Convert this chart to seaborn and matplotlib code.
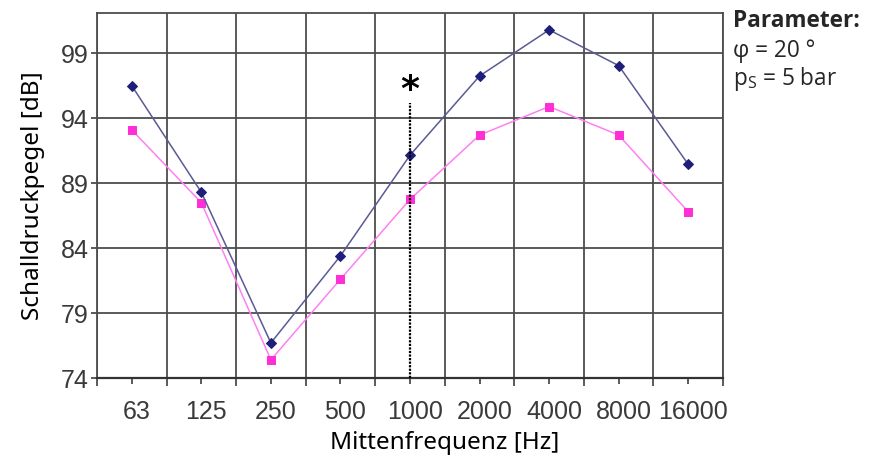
import numpy as np
import pandas as pd
import matplotlib
matplotlib.use("Agg")
import matplotlib.pyplot as plt
import matplotlib.transforms as mtransforms
import seaborn as sns

# Octave-band centre frequencies and measured sound pressure levels
frequencies = ["63", "125", "250", "500", "1000", "2000", "4000", "8000", "16000"]
level_navy = [96.5, 88.3, 76.7, 83.4, 91.15, 97.25, 100.8, 98.05, 90.45]
level_pink = [93.1, 87.5, 75.4, 81.6, 87.75, 92.7, 94.9, 92.7, 86.8]
y_ticks = [74, 79, 84, 89, 94, 99]
y_range = (74, 102.1)
highlight_freq = "1000"
highlight_top = 95.2

sns.set_theme(style="white")
plt.rcParams["font.family"] = ["Noto Sans", "DejaVu Sans"]
plt.rcParams["mathtext.fontset"] = "custom"
plt.rcParams["mathtext.rm"] = "Open Sans"

fig = plt.figure(figsize=(8.83, 4.65), dpi=100)
ax = fig.add_axes([97 / 883, 87 / 465, 626 / 883, 365 / 465])

df = pd.DataFrame({"Frequenz": frequencies,
                   "navy": level_navy,
                   "pink": level_pink})

sns.lineplot(data=df, x="Frequenz", y="navy", sort=False, ax=ax,
             color="#5a5a94", linewidth=1.1, marker="D", markersize=5,
             markerfacecolor="#1f1f7a", markeredgecolor="#1f1f7a", zorder=4)
sns.lineplot(data=df, x="Frequenz", y="pink", sort=False, ax=ax,
             color="#ff80f2", linewidth=1.1, marker="s", markersize=5.5,
             markerfacecolor="#ff2fd6", markeredgecolor="#ff2fd6", zorder=3)

# dotted marker line with asterisk at 1000 Hz
hx = frequencies.index(highlight_freq)
ax.vlines(hx, y_range[0], highlight_top, colors="black",
          linestyles=(0, (1, 0.6)), linewidth=1.6, zorder=5)
ax.text(hx, highlight_top + 1.0, "*", ha="center", va="center",
        fontsize=26, fontweight="bold", family="DejaVu Sans", color="black")

n = len(frequencies)
ax.set_xlim(-0.5, n - 0.5)
ax.set_ylim(*y_range)

# category boundaries carry the grid, centres carry the labels
ax.set_xticks(np.arange(-0.5, n, 1.0))
ax.set_xticklabels([])
ax.set_xticks(np.arange(n), labels=frequencies, minor=True)
ax.set_yticks(y_ticks)
ax.set_yticklabels([str(v) for v in y_ticks])

grid_col = "#4d4d4d"
ax.grid(True, which="major", color=grid_col, linewidth=1.3)
for s in ax.spines.values():
    s.set_color(grid_col)
    s.set_linewidth(1.3)
ax.spines["bottom"].set_color("#333333")
ax.spines["bottom"].set_linewidth(1.6)

ax.tick_params(axis="x", which="major", direction="out", length=6,
               width=1.3, color=grid_col, bottom=True)
ax.tick_params(axis="x", which="minor", direction="out", length=4,
               width=1.3, color=grid_col, bottom=True, pad=12,
               labelsize=18, labelcolor="#3a3a3a",
               labelfontfamily="Liberation Sans")
ax.tick_params(axis="y", which="major", direction="out", length=4,
               width=1.3, color=grid_col, left=True, pad=2,
               labelsize=18, labelcolor="#3a3a3a",
               labelfontfamily="Liberation Sans")

# frequency labels sit slightly right of the category centres
shift = mtransforms.ScaledTranslation(5 / 100, 0, fig.dpi_scale_trans)
for lab in ax.get_xticklabels(minor=True):
    lab.set_transform(lab.get_transform() + shift)

ax.set_xlabel("Mittenfrequenz [Hz]", fontsize=17.5, color="black")
ax.xaxis.set_label_coords((445 - 97) / 626, -(443 - 378) / 365)
ax.set_ylabel("Schalldruckpegel [dB]", fontsize=17.5, color="black")
ax.yaxis.set_label_coords(-(97 - 33) / 626, 0.5)
ax.xaxis.label.set_va("center")
ax.yaxis.label.set_va("center")

side = ["Open Sans", "DejaVu Sans"]
fig.text(733 / 883, 1 - 21 / 465, "Parameter:", fontsize=16.3, family=side,
         fontweight="bold", va="center", ha="left")
fig.text(733 / 883, 1 - 51 / 465, "φ = 20 °", fontsize=16.3, family=side,
         va="center", ha="left")
fig.text(733 / 883, 1 - 79 / 465, r"p$_\mathrm{S}$ = 5 bar", fontsize=16.3,
         family=side, va="center", ha="left")

fig.savefig("out.png", dpi=100)
